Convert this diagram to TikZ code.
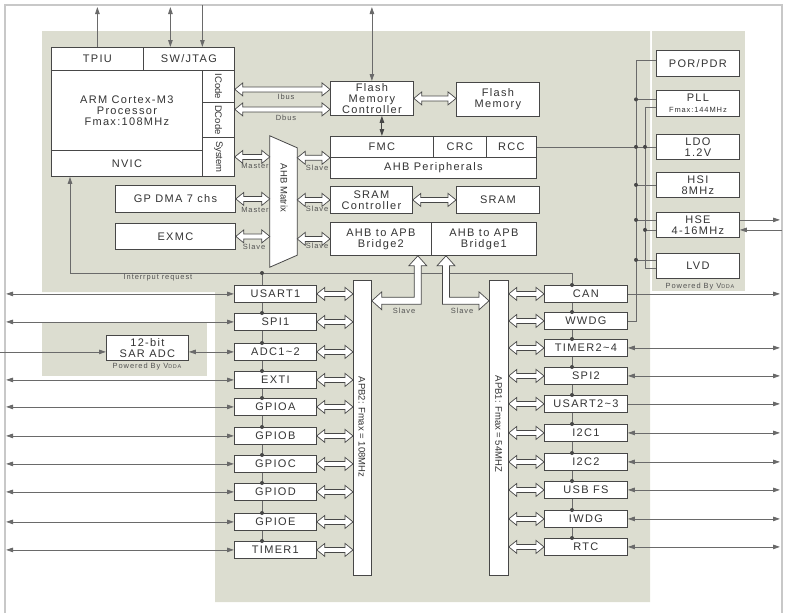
\documentclass[tikz,border=0pt]{standalone}
\usepackage{fontspec}
\setmainfont{Liberation Sans}
\newfontfamily\spfont{Liberation Sans}[LetterSpace=12]
\usetikzlibrary{arrows.meta,calc,fit}
\definecolor{bg}{HTML}{DCDDD0}
\definecolor{bd}{HTML}{474747}
\definecolor{ln}{HTML}{6A6A6A}
\definecolor{tx}{HTML}{333333}
\definecolor{fr}{HTML}{C8C8C8}
\pgfdeclarelayer{back}\pgfdeclarelayer{mid}\pgfsetlayers{back,mid,main}
\tikzset{
  box/.style={draw=bd, fill=white, line width=0.8pt, inner sep=0pt, anchor=north west, text=tx, align=center, font=\spfont\fontsize{11}{11}\selectfont},
  boxline/.style={draw=bd, fill=white, line width=0.8pt},
  conn/.style={draw=ln, line width=0.8pt},
  hollow/.style={draw=bd, fill=white, line width=0.7pt},
  rot/.style={rotate=-90, text=tx, inner sep=0pt, font=\fontsize{9.5}{11}\selectfont},
  small/.style={text=tx!85, inner sep=0pt, font=\spfont\fontsize{7.5}{8}\selectfont},
}
\newcommand\bx[7][]{\node[box,minimum width={(#5-#3)*1pt},minimum height={(#6-#4)*1pt},#1] (#2) at (#3,#4) {#7};}
\newcommand\hh[2]{\draw[hollow] let \p1=#1, \p2=#2 in (\x1,\y1) -- (\x1+8pt,\y1+6.5pt) -- (\x1+8pt,\y1+2.5pt) -- (\x2-8pt,\y1+2.5pt) -- (\x2-8pt,\y1+6.5pt) -- (\x2,\y1) -- (\x2-8pt,\y1-6.5pt) -- (\x2-8pt,\y1-2.5pt) -- (\x1+8pt,\y1-2.5pt) -- (\x1+8pt,\y1-6.5pt) -- cycle;}
\newcommand\dt[1]{\fill[bd] #1 circle (2pt);}
\begin{document}
\begin{tikzpicture}[x=1pt,y=-1pt,>={Triangle[length=7pt,width=4.5pt]}]
\useasboundingbox (0,0) rectangle (789,613);
\begin{pgfonlayer}{back}
\fill[bg] (42,31) -- (650,31) -- (650,602) -- (215,602) -- (215,292) -- (42,292) -- cycle;
\fill[bg] (652,31) rectangle (745,291);
\fill[bg] (42,323) rectangle (207,376);
\draw[fr,line width=1.2pt] (5,613) -- (5,5) -- (782,5) -- (782,613);
\end{pgfonlayer}

% ---------- Cortex-M3 ----------
\bx{tpiu}{51}{47}{143}{70}{TPIU}
\bx{swj}{143}{47}{234}{70}{SW/JTAG}
\bx{core}{51}{70}{202}{150}{ARM Cortex-M3\\Processor\\Fmax:108MHz}
\bx{nvic}{51}{150}{202}{176}{NVIC}
\bx{icode}{202}{70}{234}{102}{}
\bx{dcode}{202}{102}{234}{137}{}
\bx{sysb}{202}{137}{234}{176}{}
\node[rot] (icodet) at (icode) {ICode};
\node[rot] (dcodet) at (dcode) {DCode};
\node[rot] (syst) at (sysb) {System};
\bx{dma}{115}{185}{235}{212}{GP DMA 7 chs}
\bx{exmc}{115}{223}{235}{249}{EXMC}

% ---------- AHB side ----------
\bx{fmcc}{330}{81}{413}{115}{Flash\\Memory\\Controller}
\bx{flash}{456}{82}{539}{116}{Flash\\Memory}
\bx{fmc}{330}{136}{433}{157}{FMC}
\bx{crc}{433}{136}{486}{157}{CRC}
\bx{rcc}{486}{136}{536}{157}{RCC}
\bx{ahbp}{330}{157}{536}{178}{AHB Peripherals}
\bx{sramc}{330}{186}{412}{213}{SRAM\\Controller}
\bx{sram}{456}{186}{539}{213}{SRAM}
\bx{br2}{330}{222}{431}{255}{AHB to APB\\Bridge2}
\bx{br1}{431}{222}{536}{255}{AHB to APB\\Bridge1}

\node[inner sep=0pt, fit={(270,136) (297,267)}] (mtx) {};
\draw[boxline] (mtx.north west) -- ([yshift=-12pt]mtx.north east) -- ([yshift=12pt]mtx.south east) -- (mtx.south west) -- cycle;
\node[rot] (mtxt) at (284,188) {AHB Matrix};

% ---------- APB buses ----------
\bx{apb2}{353}{280}{371}{575}{}
\bx{apb1}{489}{280}{508}{575}{}
\node[rot] (apb2t) at (362,427) {APB2: Fmax = 108MHz};
\node[rot] (apb1t) at (498.5,424) {APB1: Fmax = 54MHZ};

% ---------- APB2 peripherals ----------
\bx{usart1}{234}{285}{316}{302}{USART1}
\bx{spi1}{234}{313}{316}{330}{SPI1}
\bx{adc}{234}{343}{316}{360}{ADC1\textasciitilde2}
\bx{exti}{234}{371}{316}{388}{EXTI}
\bx{gpioa}{234}{398}{316}{415}{GPIOA}
\bx{gpiob}{234}{427}{316}{444}{GPIOB}
\bx{gpioc}{234}{455}{316}{472}{GPIOC}
\bx{gpiod}{234}{483}{316}{500}{GPIOD}
\bx{gpioe}{234}{513}{316}{530}{GPIOE}
\bx{timer1}{234}{541}{316}{558}{TIMER1}
\bx{sar}{106}{335}{188}{360}{12-bit\\SAR ADC}

% ---------- APB1 peripherals ----------
\bx{can}{544}{285}{627}{302}{CAN}
\bx{wwdg}{544}{312}{627}{329}{WWDG}
\bx{timer24}{544}{339}{627}{356}{TIMER2\textasciitilde4}
\bx{spi2}{544}{367}{627}{384}{SPI2}
\bx{usart23}{544}{395}{627}{412}{USART2\textasciitilde3}
\bx{i2ca}{544}{424}{627}{441}{I2C1}
\bx{i2cb}{544}{453}{627}{470}{I2C2}
\bx{usbfs}{544}{481}{627}{498}{USB FS}
\bx{iwdg}{544}{510}{627}{527}{IWDG}
\bx{rtc}{544}{538}{627}{555}{RTC}

% ---------- power column ----------
\bx{por}{656}{50}{739}{76}{POR/PDR}
\bx{pll}{656}{90}{739}{116}{PLL\\{\fontsize{7.5}{8}\selectfont Fmax:144MHz}}
\bx{ldo}{656}{134}{739}{159}{LDO\\1.2V}
\bx{hsi}{656}{172}{739}{197}{HSI\\8MHz}
\bx{hse}{656}{212}{739}{237}{HSE\\4-16MHz}
\bx{lvd}{656}{253}{739}{278}{LVD}

% ---------- helper coordinates ----------
\coordinate (top) at (0,7);
\coordinate (topb) at (0,5);
\coordinate (lft) at (6,0);
\coordinate (lft0) at (0,0);
\coordinate (rgt) at (780,0);
\coordinate (rgt2) at (782,0);
\coordinate (p1) at (636,0);
\coordinate (p2) at (645,0);
\coordinate (irqc) at (70,273);
\coordinate (j2) at (262,273);
\coordinate (j1) at (572,273);
\coordinate (swa) at ([xshift=-18.5pt]swj.north);
\coordinate (swb) at ([xshift=13.5pt]swj.north);
\coordinate (porA) at ([yshift=3pt]por.west);
\coordinate (pllA) at ([yshift=4pt]pll.west);
\coordinate (pllB) at ([yshift=-4pt]pll.west);
\coordinate (hseA) at ([yshift=5pt]hse.west);
\coordinate (hseB) at ([yshift=-5pt]hse.west);
\coordinate (lvdA) at ([yshift=6pt]lvd.west);
\coordinate (lvdB) at ([yshift=-2pt]lvd.west);
\coordinate (b2tip) at ([xshift=-14pt]br2.south east);
\coordinate (b1tip) at ([xshift=15pt]br1.south west);

% ---------- chains (under boxes) ----------
\begin{pgfonlayer}{mid}
\draw[conn] (j2) -- (j2 |- timer1.north);
\draw[conn] (j1 |- can.north) -- (j1 |- rtc.north);
\end{pgfonlayer}

% ---------- thin connectors ----------
\draw[conn,->] (tpiu.north) -- (top -| tpiu.north);
\draw[conn,<->] (swa) -- (top -| swa);
\draw[conn,->] (topb -| swb) -- (swb);
\draw[conn,<->] (fmcc.north) -- (top -| fmcc.north);
\draw[conn,<->,line width=1pt,draw=bd] (fmc.north |- fmcc.south) -- (fmc.north);
\draw[conn,->] (irqc) -- (irqc |- nvic.south);
\draw[conn] (irqc) -- (j1) -- (j1 |- can.north);

\foreach \q in {usart1,spi1,exti,gpioa,gpiob,gpioc,gpiod,gpioe,timer1}
  {\draw[conn,<->] (lft |- \q.west) -- (\q.west);}
\draw[conn,->] (lft0 |- adc.west) -- (sar.west |- adc.west);
\draw[conn,<->] (sar.east |- adc.west) -- (adc.west);

\draw[conn,->] (can.east) -- (rgt |- can.east);
\draw[conn,->] (usart23.east) -- (rgt |- usart23.east);
\foreach \q in {timer24,spi2,i2ca,i2cb,usbfs,iwdg,rtc}
  {\draw[conn,<->] (\q.east) -- (rgt |- \q.east);}

% power buses
\draw[conn] (porA) -| (p1 |- wwdg.east) -- (wwdg.east);
\draw[conn] (p1 |- pllA) -- (pllA);
\draw[conn] (p1 |- hsi.west) -- (hsi.west);
\draw[conn] (p1 |- hseA) -- (hseA);
\draw[conn] (p1 |- lvdA) -- (lvdA);
\draw[conn] (rcc.east) -- (ldo.west);
\draw[conn] (pllB) -| (p2 |- lvdB) -- (lvdB);
\draw[conn] (p2 |- hseB) -- (hseB);
\draw[conn,->] (hseA -| hse.east) -- (rgt |- hseA);
\draw[conn,->] (rgt2 |- hseB) -- (hseB -| hse.east);

% dots
\dt{(j2)}
\foreach \q in {spi1,adc,exti,gpioa,gpiob,gpioc,gpiod,gpioe,timer1} {\dt{(j2 |- \q.north)}}
\foreach \q in {can,wwdg,timer24,spi2,usart23,i2ca,i2cb,usbfs,iwdg,rtc} {\dt{(j1 |- \q.north)}}
\foreach \c in {pllA,ldo.west,hsi.west,hseA,lvdA} {\dt{(p1 |- \c)}}
\dt{(p2 |- ldo.west)}
\dt{(p2 |- hseB)}

% ---------- hollow bus arrows ----------
\hh{([yshift=-3pt]icode.east)}{(fmcc.west)}
\hh{([yshift=10.5pt]dcode.east)}{(fmcc.west)}
\hh{(fmcc.east)}{(flash.west)}
\hh{(sramc.east)}{(sram.west)}
\hh{(sysb.east)}{(mtx.west)}
\hh{(dma.east)}{(mtx.west)}
\hh{(exmc.east)}{(mtx.west)}
\hh{(mtx.east |- fmc.south west)}{(fmc.south west)}
\hh{(mtx.east |- sramc.west)}{(sramc.west)}
\hh{(mtx.east |- br2.west)}{(br2.west)}
\foreach \q in {usart1,spi1,adc,exti,gpioa,gpiob,gpioc,gpiod,gpioe,timer1}
  {\hh{(\q.east)}{(apb2.west)}}
\foreach \q in {can,wwdg,timer24,spi2,usart23,i2ca,i2cb,usbfs,iwdg,rtc}
  {\hh{(apb1.east |- \q.west)}{(\q.west)}}

\draw[hollow] let \p1=(b2tip), \p2=(apb2.east), \p3=($(b2tip)+(0,-45pt)$) in
  (\x1,\y1) -- (\x1+9pt,\y1-10pt) -- (\x1+3.5pt,\y1-10pt) -- (\x1+3.5pt,\y3-3.5pt)
  -- (\x2+10pt,\y3-3.5pt) -- (\x2+10pt,\y3-9pt) -- (\x2,\y3) -- (\x2+10pt,\y3+9pt)
  -- (\x2+10pt,\y3+3.5pt) -- (\x1-3.5pt,\y3+3.5pt) -- (\x1-3.5pt,\y1-10pt) -- (\x1-9pt,\y1-10pt) -- cycle;
\draw[hollow] let \p1=(b1tip), \p2=(apb1.west), \p3=($(b1tip)+(0,-45pt)$) in
  (\x1,\y1) -- (\x1-9pt,\y1-10pt) -- (\x1-3.5pt,\y1-10pt) -- (\x1-3.5pt,\y3-3.5pt)
  -- (\x2-10pt,\y3-3.5pt) -- (\x2-10pt,\y3-9pt) -- (\x2,\y3) -- (\x2-10pt,\y3+9pt)
  -- (\x2-10pt,\y3+3.5pt) -- (\x1+3.5pt,\y3+3.5pt) -- (\x1+3.5pt,\y1-10pt) -- (\x1+9pt,\y1-10pt) -- cycle;

% ---------- small labels ----------
\node[small] (ibusl) at (286,97) {Ibus};
\node[small] (dbusl) at (286,118) {Dbus};
\node[small] (m1) at (255,166) {Master};
\node[small] (m2) at (255,210) {Master};
\node[small] (s0) at (254,247) {Slave};
\node[small] (s1) at (317,168) {Slave};
\node[small] (s2) at (317,209) {Slave};
\node[small] (s3) at (317,246) {Slave};
\node[small] (s4) at (404,311) {Slave};
\node[small] (s5) at (462,311) {Slave};
\node[small] (irql) at (158,278) {Interrput request};
\node[small] (pw1) at (700,287) {Powered By V{\fontsize{5.5}{6}\selectfont DDA}};
\node[small] (pw2) at (147,367) {Powered By V{\fontsize{5.5}{6}\selectfont DDA}};
\end{tikzpicture}
\end{document}
